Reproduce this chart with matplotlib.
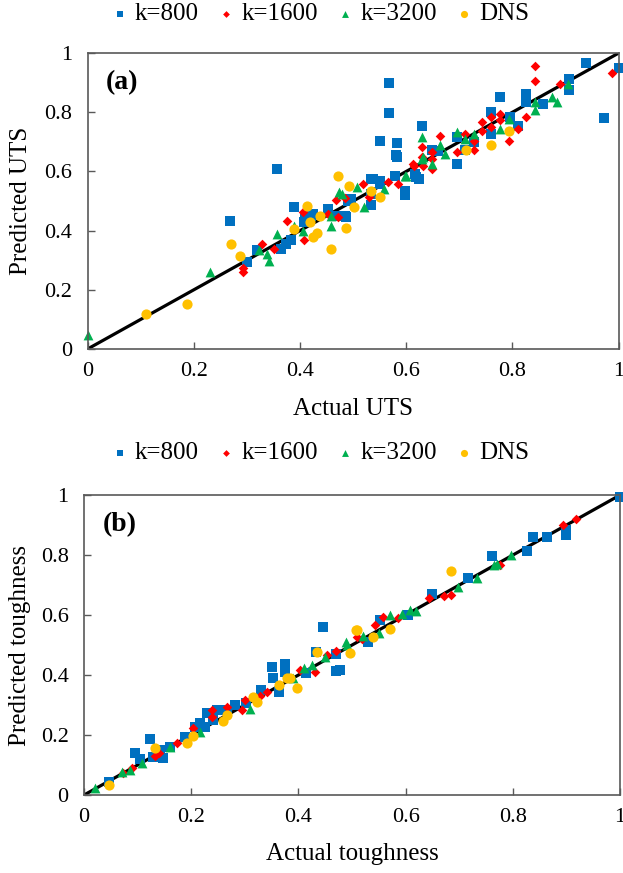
import matplotlib
matplotlib.use("Agg")
import matplotlib.pyplot as plt

plt.rcParams['font.family'] = ['Liberation Serif', 'DejaVu Serif']

# ---- panel (a): UTS ----
uts_800_x = [0.269, 0.357, 0.567, 0.567, 0.55, 0.583, 0.583, 0.63, 0.776, 0.826, 0.826, 0.858,
             0.907, 0.907, 0.938, 1.0, 0.972, 0.76, 0.76, 0.795, 0.81, 0.695, 0.695, 0.648, 0.66,
             0.711, 0.727, 0.616, 0.625, 0.597, 0.597, 0.578, 0.534, 0.55, 0.534, 0.49, 0.487,
             0.30, 0.32, 0.364, 0.373, 0.383, 0.389, 0.408, 0.42, 0.452, 0.468, 0.484, 0.496,
             0.424, 0.41, 0.537, 0.55, 0.619, 0.581, 0.534]
uts_800_y = [0.434, 0.609, 0.899, 0.798, 0.704, 0.695, 0.65, 0.753, 0.851, 0.862, 0.834, 0.828,
             0.913, 0.874, 0.967, 0.95, 0.781, 0.80, 0.727, 0.783, 0.752, 0.716, 0.626, 0.671, 0.67,
             0.671, 0.699, 0.592, 0.576, 0.535, 0.52, 0.586, 0.575, 0.569, 0.485, 0.50, 0.445,
             0.293, 0.333, 0.338, 0.355, 0.367, 0.479, 0.428, 0.451, 0.474, 0.451, 0.451, 0.507,
             0.457, 0.44, 0.575, 0.558, 0.58, 0.654, 0.524]

uts_1600_x = [0.293, 0.293, 0.329, 0.351, 0.375, 0.405, 0.407, 0.452, 0.471, 0.468, 0.484,
              0.518, 0.53, 0.566, 0.584, 0.613, 0.632, 0.842, 0.842, 0.987, 0.889, 0.826, 0.81,
              0.793, 0.776, 0.776, 0.759, 0.759, 0.742, 0.742, 0.727, 0.727, 0.711, 0.695, 0.664,
              0.63, 0.63, 0.648, 0.648, 0.648, 0.615]
uts_1600_y = [0.273, 0.26, 0.355, 0.338, 0.434, 0.462, 0.369, 0.457, 0.445, 0.502, 0.51,
              0.558, 0.513, 0.563, 0.558, 0.626, 0.62, 0.958, 0.904, 0.933, 0.896, 0.783, 0.742,
              0.704, 0.795, 0.773, 0.783, 0.749, 0.766, 0.738, 0.704, 0.671, 0.727, 0.665, 0.721,
              0.682, 0.648, 0.665, 0.642, 0.609, 0.62]

uts_3200_x = [0.0, 0.23, 0.323, 0.338, 0.341, 0.357, 0.389, 0.405, 0.458, 0.458, 0.474, 0.48,
              0.508, 0.521, 0.559, 0.597, 0.632, 0.599, 0.63, 0.63, 0.648, 0.664, 0.673, 0.695,
              0.711, 0.727, 0.776, 0.793, 0.842, 0.842, 0.875, 0.884, 0.905]
uts_3200_y = [0.049, 0.26, 0.333, 0.322, 0.299, 0.389, 0.417, 0.40, 0.451, 0.417, 0.53, 0.525,
              0.547, 0.479, 0.541, 0.586, 0.648, 0.586, 0.716, 0.642, 0.626, 0.688, 0.66, 0.732,
              0.71, 0.727, 0.744, 0.778, 0.834, 0.808, 0.851, 0.834, 0.896]

uts_dns_x = [0.11, 0.187, 0.27, 0.288, 0.389, 0.413, 0.419, 0.424, 0.432, 0.438, 0.458, 0.471,
             0.486, 0.492, 0.501, 0.534, 0.55, 0.712, 0.759, 0.794]
uts_dns_y = [0.117, 0.153, 0.355, 0.316, 0.406, 0.482, 0.428, 0.378, 0.391, 0.451, 0.338, 0.586,
             0.408, 0.552, 0.481, 0.535, 0.515, 0.674, 0.688, 0.736]

# ---- panel (b): toughness ----
tough_800_x = [0.047, 0.095, 0.104, 0.123, 0.129, 0.147, 0.142, 0.16, 0.188, 0.207, 0.216, 0.226,
               0.229, 0.241, 0.248, 0.266, 0.282, 0.303, 0.331, 0.35, 0.353, 0.375, 0.375, 0.363,
               0.415, 0.433, 0.445, 0.47, 0.471, 0.478, 0.53, 0.552, 0.605, 0.65, 0.717, 0.762,
               0.826, 0.837, 0.864, 0.9, 0.9, 1.0]
tough_800_y = [0.044, 0.139, 0.12, 0.186, 0.128, 0.122, 0.15, 0.16, 0.194, 0.228, 0.24, 0.228,
               0.272, 0.25, 0.283, 0.283, 0.30, 0.306, 0.35, 0.426, 0.389, 0.437, 0.41, 0.344,
               0.406, 0.478, 0.559, 0.413, 0.469, 0.417, 0.511, 0.583, 0.60, 0.67, 0.722, 0.798,
               0.813, 0.861, 0.861, 0.883, 0.868, 0.994]

tough_1600_x = [0.073, 0.089, 0.132, 0.14, 0.173, 0.204, 0.238, 0.238, 0.266, 0.294, 0.30, 0.329,
                0.342, 0.403, 0.431, 0.453, 0.471, 0.509, 0.518, 0.543, 0.557, 0.585, 0.644,
                0.672, 0.684, 0.777, 0.893, 0.918]
tough_1600_y = [0.074, 0.089, 0.13, 0.14, 0.174, 0.222, 0.283, 0.26, 0.292, 0.283, 0.317, 0.33,
                0.344, 0.417, 0.411, 0.467, 0.48, 0.528, 0.52, 0.567, 0.594, 0.589, 0.656,
                0.663, 0.667, 0.767, 0.90, 0.919]

tough_3200_x = [0.021, 0.07, 0.086, 0.108, 0.16, 0.216, 0.31, 0.39, 0.41, 0.426, 0.45, 0.49,
                0.489, 0.52, 0.55, 0.571, 0.593, 0.608, 0.619, 0.697, 0.733, 0.764, 0.77, 0.796]
tough_3200_y = [0.022, 0.078, 0.083, 0.106, 0.161, 0.211, 0.286, 0.389, 0.422, 0.433, 0.46, 0.50,
                0.511, 0.53, 0.54, 0.60, 0.603, 0.617, 0.613, 0.694, 0.722, 0.767, 0.77, 0.80]

tough_dns_x = [0.047, 0.132, 0.193, 0.203, 0.26, 0.266, 0.315, 0.323, 0.363, 0.378, 0.385, 0.398,
               0.434, 0.497, 0.507, 0.509, 0.54, 0.57, 0.684]
tough_dns_y = [0.033, 0.156, 0.172, 0.197, 0.248, 0.267, 0.328, 0.311, 0.367, 0.389, 0.389, 0.356,
               0.478, 0.474, 0.55, 0.55, 0.528, 0.552, 0.747]

ticks = [0, 0.2, 0.4, 0.6, 0.8, 1]
tick_labels = ['0', '0.2', '0.4', '0.6', '0.8', '1']

series_style = [
    ('k=800', 's', '#0070C0', 46),
    ('k=1600', 'D', '#FF0000', 24),
    ('k=3200', '^', '#00B050', 50),
    ('DNS', 'o', '#FFC000', 54),
]


def draw_panel(ax, data, tag, xlabel, ylabel):
    ax.plot([0, 1], [0, 1], color='black', lw=2.3, zorder=1)
    for (label, marker, color, size), (xs, ys) in zip(series_style, data):
        ax.scatter(xs, ys, marker=marker, s=size, color=color, linewidths=0,
                   label=label, zorder=2, clip_on=False)
    ax.set_xlim(0, 1)
    ax.set_ylim(0, 1)
    ax.set_xticks(ticks)
    ax.set_xticklabels(tick_labels)
    ax.set_yticks(ticks)
    ax.set_yticklabels(tick_labels)
    ax.tick_params(direction='in', length=5, width=1, labelsize=16, color='#595959')
    ax.tick_params(axis='x', pad=9)
    ax.tick_params(axis='y', pad=11)
    for sp in ax.spines.values():
        sp.set_color('#595959')
        sp.set_linewidth(1.2)
    ax.set_xlabel(xlabel, fontsize=18)
    ax.set_ylabel(ylabel, fontsize=18)
    ax.xaxis.set_label_coords(0.5, -0.165)
    ax.text(0.035, 0.9, tag, transform=ax.transAxes, fontsize=20,
            fontweight='bold', va='center', ha='left')


fig = plt.figure(figsize=(6.23, 8.73), dpi=100)
ax1 = fig.add_axes([0.1405, 0.6002, 0.8525, 0.339])
ax2 = fig.add_axes([0.1348, 0.0893, 0.8604, 0.3436])

draw_panel(ax1, [(uts_800_x, uts_800_y), (uts_1600_x, uts_1600_y),
                 (uts_3200_x, uts_3200_y), (uts_dns_x, uts_dns_y)],
           '(a)', 'Actual UTS', 'Predicted UTS')
draw_panel(ax2, [(tough_800_x, tough_800_y), (tough_1600_x, tough_1600_y),
                 (tough_3200_x, tough_3200_y), (tough_dns_x, tough_dns_y)],
           '(b)', 'Actual toughness', 'Predicted toughness')
ax1.yaxis.set_label_coords(-0.105, 0.5)
ax2.yaxis.set_label_coords(-0.099, 0.5)
ax2.xaxis.set_label_coords(0.5, -0.16)

for ax, ly in ((ax1, 0.984), (ax2, 0.481)):
    h, l = ax.get_legend_handles_labels()
    fig.legend(h, l, loc='center', bbox_to_anchor=(0.515, ly), ncol=4, frameon=False,
               fontsize=18, markerscale=0.7, handlelength=0.6, handletextpad=0.3,
               columnspacing=0.8, borderpad=0.1)

fig.savefig('out.png', dpi=100)
